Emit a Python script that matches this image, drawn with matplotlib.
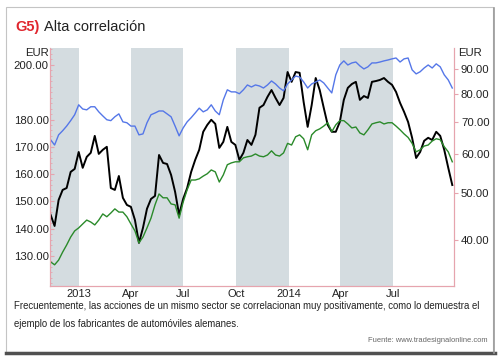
import matplotlib
matplotlib.use("Agg")
import matplotlib.pyplot as plt
import matplotlib.ticker as mticker
from matplotlib.patches import Rectangle
import pandas as pd

plt.rcParams["font.family"] = ["Liberation Sans", "DejaVu Sans"]

# weekly closes, Nov 2012 - Oct 2014
start_date = "2012-11-12"
n_weeks = 101

# left axis (EUR, linear)
black_vals = [
    145.1, 141.0, 150.5, 154.2, 154.9, 160.8, 161.9, 168.1, 162.3, 166.3,
    167.8, 174.0, 167.4, 168.9, 170.0, 154.9, 154.2, 159.3, 151.3, 148.7,
    148.0, 143.2, 134.8, 140.3, 147.3, 150.9, 152.0, 167.0, 164.1, 163.7,
    159.7, 153.5, 145.1, 150.9, 154.9, 160.8, 165.2, 168.9, 175.5, 178.0,
    179.9, 178.4, 169.6, 171.8, 177.3, 171.8, 170.7, 165.2, 167.8, 172.5,
    170.7, 174.4, 184.3, 185.3, 188.3, 190.8, 187.9, 185.3, 187.9, 197.4,
    193.8, 197.4, 197.1, 186.4, 177.3, 185.3, 195.2, 190.8, 184.3, 178.0,
    175.5, 175.5, 179.1, 187.2, 191.6, 193.0, 193.8, 187.2, 188.6, 187.9,
    193.8, 194.1, 194.5, 195.2, 193.8, 192.7, 190.1, 186.1, 182.8, 179.1,
    173.3, 165.9, 168.1, 172.2, 173.3, 172.5, 175.5, 174.0, 168.9, 162.3,
    156.0,
]

# right axis (EUR, log)
blue_vals = [
    64.3, 62.7, 65.8, 67.1, 68.6, 70.4, 72.4, 75.9, 74.4, 74.1,
    75.2, 75.2, 73.4, 72.0, 70.7, 70.4, 71.7, 72.7, 70.0, 69.7,
    68.6, 68.6, 65.8, 66.1, 69.7, 72.4, 73.0, 73.7, 73.7, 72.7,
    71.7, 68.6, 65.5, 68.0, 70.0, 71.4, 73.0, 74.7, 73.4, 74.1,
    75.9, 73.7, 72.4, 77.7, 81.5, 80.7, 80.7, 80.0, 81.5, 83.4,
    82.6, 83.4, 83.0, 82.2, 83.4, 85.0, 83.8, 82.2, 81.1, 83.8,
    85.4, 87.0, 86.6, 84.6, 82.2, 83.8, 84.6, 85.4, 84.2, 82.2,
    80.3, 87.5, 91.7, 93.5, 91.7, 92.6, 93.0, 91.3, 90.0, 90.9,
    92.6, 92.6, 93.0, 93.5, 93.9, 94.4, 94.8, 93.0, 94.4, 94.8,
    89.6, 87.9, 88.8, 90.4, 91.7, 90.4, 92.2, 90.9, 87.5, 85.4,
    82.2,
]

green_vals = [
    36.0, 35.5, 36.3, 37.7, 39.0, 40.5, 41.7, 42.3, 43.1, 43.9,
    43.5, 42.9, 43.9, 45.2, 44.6, 45.4, 46.3, 45.6, 45.6, 44.6,
    43.1, 41.7, 39.4, 40.5, 42.3, 44.3, 47.2, 49.7, 48.8, 48.8,
    47.4, 47.2, 44.3, 47.8, 50.7, 53.1, 53.1, 53.4, 54.1, 54.7,
    55.7, 55.2, 52.6, 54.4, 57.1, 57.6, 57.9, 57.9, 59.0, 59.3,
    59.5, 60.1, 59.5, 59.3, 59.8, 61.0, 59.8, 59.5, 60.4, 63.2,
    62.7, 65.2, 65.8, 64.6, 61.3, 65.8, 67.1, 67.7, 68.6, 69.7,
    66.8, 69.0, 70.4, 70.4, 69.3, 68.0, 68.3, 66.4, 65.8, 67.4,
    69.3, 69.7, 70.0, 69.3, 69.7, 69.7, 68.6, 67.4, 66.1, 65.0,
    63.2, 60.7, 61.3, 62.4, 62.7, 63.9, 64.6, 64.3, 62.2, 60.7,
    57.9,
]

# shaded quarters
band_starts = ["2012-10-01", "2013-04-01", "2013-10-01", "2014-04-01"]
band_ends = ["2013-01-01", "2013-07-01", "2014-01-01", "2014-07-01"]

xtick_dates = ["2013-01-01", "2013-04-01", "2013-07-01", "2013-10-01",
               "2014-01-01", "2014-04-01", "2014-07-01"]
xtick_labels = ["2013", "Apr", "Jul", "Oct", "2014", "Apr", "Jul"]

left_ticks = [130, 140, 150, 160, 170, 180, 200]
right_ticks = [40, 50, 60, 70, 80, 90]

dates = pd.date_range(start_date, periods=n_weeks, freq="7D")

pink = "#e6a4ae"
band_col = "#d4dce0"
ink = "#222222"

fig = plt.figure(figsize=(4.99, 3.61), dpi=100)
fig.patch.set_facecolor("white")

# panel frame with shadow
W, H = 499, 361
fig.patches.append(Rectangle((6 / W, 1 - 352 / H), 487 / W, 345 / H,
                             transform=fig.transFigure, fill=False,
                             edgecolor="#c4c4c4", lw=0.8))
fig.add_artist(plt.Line2D([6 / W, 495 / W], [1 - 353 / H] * 2,
                          transform=fig.transFigure, color="#505050", lw=2.5))
fig.add_artist(plt.Line2D([494 / W] * 2, [1 - 353 / H, 1 - 8 / H],
                          transform=fig.transFigure, color="#9a9a9a", lw=1.2))

ax = fig.add_axes([50 / W, 1 - 286 / H, 404 / W, 238 / H])
ax2 = ax.twinx()

for s, e in zip(band_starts, band_ends):
    ax.axvspan(pd.Timestamp(s), pd.Timestamp(e), color=band_col, lw=0, zorder=0)

ax.plot(dates, black_vals, color="black", lw=1.4, zorder=3)
ax2.plot(dates, blue_vals, color="#5577e8", lw=1.0)
ax2.plot(dates, green_vals, color="#2a8a2a", lw=1.0)

ax.set_xlim(pd.Timestamp("2012-11-11"), pd.Timestamp("2014-10-16"))
ax.set_ylim(119, 206.2)
ax2.set_yscale("log")
ax2.set_ylim(32.1, 99.4)

ax.set_xticks([pd.Timestamp(d) for d in xtick_dates])
ax.set_xticklabels(xtick_labels)
ax.tick_params(axis="x", length=0, pad=2, labelsize=8, colors=ink)

ax.set_yticks(left_ticks)
ax.yaxis.set_major_formatter(mticker.FormatStrFormatter("%.2f"))
ax.yaxis.set_minor_locator(mticker.MultipleLocator(2))
ax.tick_params(axis="y", which="major", length=3, color=pink, pad=1,
               labelsize=8.2, labelcolor=ink, direction="in")
ax.tick_params(axis="y", which="minor", length=1.5, color=pink, direction="in")

ax2.yaxis.set_major_locator(mticker.FixedLocator(right_ticks))
ax2.yaxis.set_major_formatter(mticker.FormatStrFormatter("%.2f"))
ax2.yaxis.set_minor_formatter(mticker.NullFormatter())
ax2.tick_params(axis="y", which="major", length=3, color=pink, pad=2,
                labelsize=8.2, labelcolor=ink)
ax2.tick_params(axis="y", which="minor", length=1.5, color=pink)

for a in (ax, ax2):
    a.spines["top"].set_visible(False)
    for side in ("left", "right", "bottom"):
        a.spines[side].set_color(pink)
        a.spines[side].set_linewidth(0.8)

fig.text(49 / W, 1 - 53 / H, "EUR", ha="right", va="center", fontsize=8.2, color=ink)
fig.text(458 / W, 1 - 53 / H, "EUR", ha="left", va="center", fontsize=8.2, color=ink)

# red tag, then the title words right after it
t1 = fig.text(15 / W, 1 - 27 / H, "G5)", ha="left", va="center",
              fontsize=10.5, fontweight="bold", color="#e0262e")
plt.annotate("Alta correlación", xy=(1, 0.5), xycoords=t1, xytext=(3, 0),
             textcoords="offset points", ha="left", va="center",
             fontsize=10.5, color=ink)

fig.text(14 / W, 1 - 306 / H,
         "Frecuentemente, las acciones de un mismo sector se correlacionan muy "
         "positivamente, como lo demuestra el",
         ha="left", va="center", fontsize=6.95, color=ink)
fig.text(14 / W, 1 - 324 / H,
         "ejemplo de los fabricantes de automóviles alemanes.",
         ha="left", va="center", fontsize=6.95, color=ink)
fig.text(487 / W, 1 - 340 / H, "Fuente: www.tradesignalonline.com",
         ha="right", va="center", fontsize=5.4, color="#666666")

fig.savefig("out.png", dpi=100)
